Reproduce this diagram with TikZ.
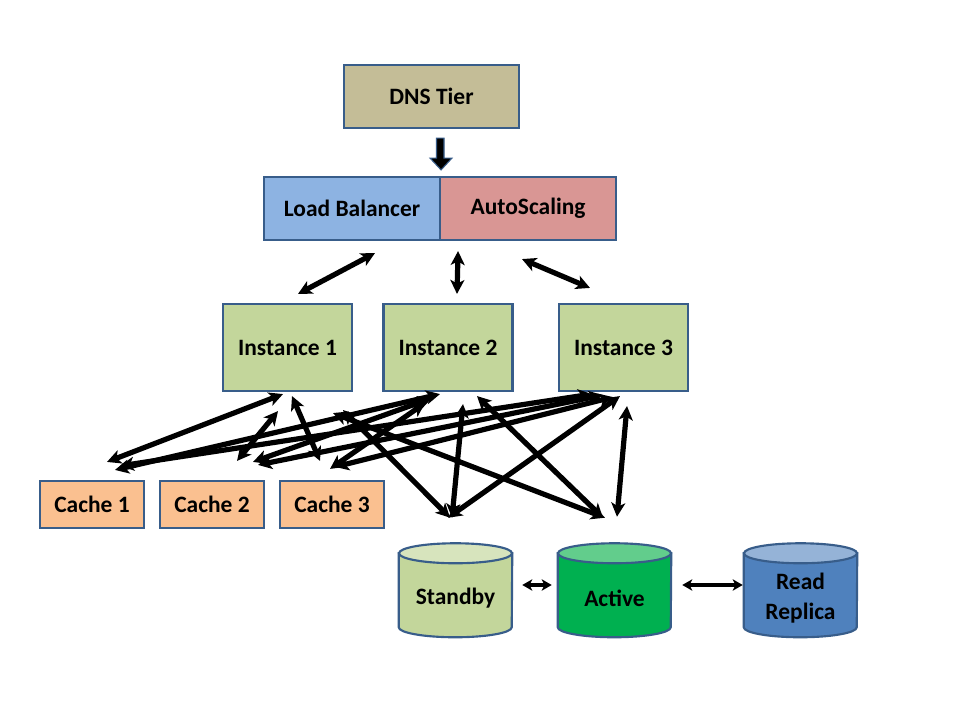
\documentclass[tikz,border=0pt]{standalone}
\usepackage{fontspec}
\setmainfont{Carlito}
\usetikzlibrary{arrows.meta,calc}
\definecolor{bord}{HTML}{385D8A}
\definecolor{dnsfill}{HTML}{C4BD97}
\definecolor{lbfill}{HTML}{8DB3E2}
\definecolor{asfill}{HTML}{D99694}
\definecolor{instfill}{HTML}{C3D69B}
\definecolor{cachefill}{HTML}{FAC090}
\definecolor{sbbody}{HTML}{C3D69B}
\definecolor{sbtop}{HTML}{D7E4BD}
\definecolor{acbody}{HTML}{00B050}
\definecolor{actop}{HTML}{62CD8C}
\definecolor{rrbody}{HTML}{4F81BD}
\definecolor{rrtop}{HTML}{95B3D7}
\tikzset{
  box/.style={draw=bord, line width=1.6pt, inner sep=0pt, align=center,
    font=\fontsize{17.6pt}{20.5pt}\selectfont\bfseries},
  dbnode/.style={inner sep=0pt, align=center, minimum width=84.75pt, minimum height=58.5pt,
    font=\fontsize{17.6pt}{22.5pt}\selectfont\bfseries},
  link/.style={line width=3.9pt, {Stealth[length=10.5pt,width=10.5pt,inset=2.8pt]}-{Stealth[length=10.5pt,width=10.5pt,inset=2.8pt]}},
  dblink/.style={line width=3pt, {Stealth[length=7.5pt,width=8.5pt,inset=2pt]}-{Stealth[length=7.5pt,width=8.5pt,inset=2pt]}},
}
\newcommand{\dbcyl}[3]{% node, body, top
  \path[fill=#2, draw=bord, line width=1.6pt]
    ([yshift=63pt]#1.south west) -- ([yshift=7.5pt]#1.south west)
    arc[start angle=180, end angle=360, x radius=42.375pt, y radius=7.5pt]
    -- ([yshift=63pt]#1.south east) -- cycle;
  \path[fill=#3, draw=bord, line width=1.6pt]
    ([yshift=63pt]#1.south) ellipse [x radius=42.375pt, y radius=7.5pt];
}
\begin{document}
\begin{tikzpicture}[x=0.75pt, y=-0.75pt]
\useasboundingbox[fill=white] (0,0) rectangle (960,720);

% top tiers
\node[box, fill=dnsfill, minimum width=131.25pt, minimum height=47.25pt] (dns) at (431.5,96.5) {DNS Tier};
\node[box, fill=lbfill, minimum width=132pt, minimum height=47.25pt] (lb) at (352,208.5) {Load Balancer};
\node[box, fill=asfill, minimum width=132pt, minimum height=47.25pt] (as) at (528,208.5) {AutoScaling};

% block arrow DNS -> LB
\path[fill=black, draw=bord, line width=0.8pt]
  ($(dns.south)+(5,9)$) -- ($(dns.south)+(5,29)$) -- ($(dns.south)+(-1.5,29)$)
  -- ($(lb.north east)+(0,-6)$) -- ($(dns.south)+(20.5,29)$) -- ($(dns.south)+(12.5,29)$)
  -- ($(dns.south)+(12.5,9)$) -- cycle;

% instances
\node[box, fill=instfill, minimum width=96.75pt, minimum height=65.25pt] (i1) at (287.5,347.5) {Instance 1};
\node[box, fill=instfill, minimum width=96.75pt, minimum height=65.25pt] (i2) at (448,347.5) {Instance 2};
\node[box, fill=instfill, minimum width=96.75pt, minimum height=65.25pt] (i3) at (623.5,347.5) {Instance 3};

% caches
\node[box, fill=cachefill, minimum width=78pt, minimum height=35.25pt] (c1) at (92,504.5) {Cache 1};
\node[box, fill=cachefill, minimum width=78pt, minimum height=35.25pt] (c2) at (212,504.5) {Cache 2};
\node[box, fill=cachefill, minimum width=78pt, minimum height=35.25pt] (c3) at (332,504.5) {Cache 3};

% databases
\node[dbnode] (sb) at (455.5,598) {};
\node[dbnode] (ac) at (614.5,598) {};
\node[dbnode] (rr) at (800.5,598) {};
\dbcyl{sb}{sbbody}{sbtop}
\dbcyl{ac}{acbody}{actop}
\dbcyl{rr}{rrbody}{rrtop}
\node[dbnode] at (sb) {Standby};
\node[dbnode] at (ac) {Active};
\node[dbnode] at (rr) {Read\\Replica};

% LB/AS <-> instances
\draw[link] ($(lb.south)+(23,12)$) -- ($(i1.north)+(10.5,-9)$);
\draw[link] ($(lb.south east)+(17,10)$) -- ($(i2.north)+(9,-9)$);
\draw[link] ($(as.south)+(-6,18)$) -- ($(i3.north)+(-33.5,-15)$);

% instances <-> caches
\draw[link] ($(i1.south)+(-4.5,2)$) -- ($(c1.north)+(15,-18)$);
\draw[link] ($(i1.south)+(-9.5,19)$) -- ($(c2.north)+(25,-19)$);
\draw[link] ($(i1.south)+(4.5,4)$) -- ($(c3.north)+(-12,-19)$);
\draw[link] ($(i2.south)+(-8,2)$) -- ($(c1.north)+(23,-10)$);
\draw[link] ($(i2.south)+(-16,6)$) -- ($(c2.north)+(41,-18)$);
\draw[link] ($(i2.south)+(-23,11)$) -- ($(c3.north)+(-2,-11)$);
\draw[link] ($(i3.south)+(-31.5,2)$) -- ($(c1.north)+(28,-14)$);
\draw[link] ($(i3.south)+(-20.5,3)$) -- ($(c2.north)+(46,-15)$);
\draw[link] ($(i3.south)+(-10.5,5)$) -- ($(c3.north)+(3,-13)$);

% instances <-> databases
\draw[link] ($(i1.south)+(55.5,18)$) -- ($(sb.north)+(-5.5,-41)$);
\draw[link] ($(i1.south)+(45.5,21)$) -- ($(ac.north)+(-9.5,-41)$);
\draw[link] ($(i2.south)+(15,12)$) -- ($(sb.north)+(-3.5,-41)$);
\draw[link] ($(i2.south)+(29,4)$) -- ($(ac.north)+(-11.5,-41)$);
\draw[link] ($(i3.south)+(-3.5,4)$) -- ($(sb.north)+(-7.5,-41)$);
\draw[link] ($(i3.south)+(3.5,14)$) -- ($(ac.north)+(2.5,-42)$);

% database links
\draw[dblink] ($(sb.east)+(10,-13)$) -- ($(ac.west)+(-6,-13)$);
\draw[dblink] ($(ac.east)+(11,-13)$) -- ($(rr.west)+(-1,-13)$);
\end{tikzpicture}
\end{document}
